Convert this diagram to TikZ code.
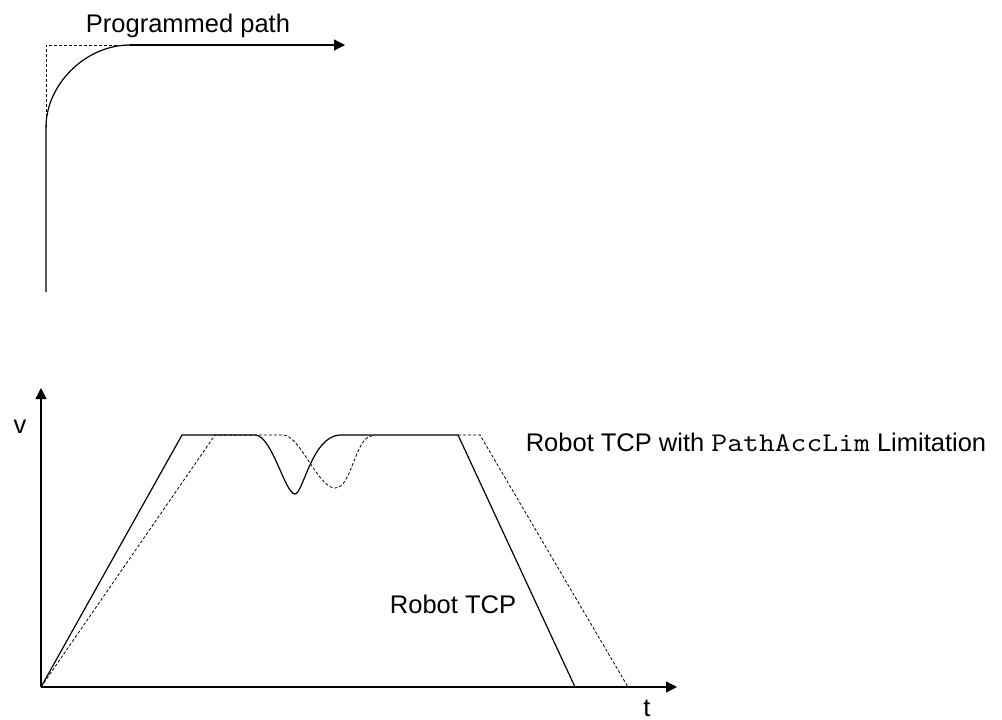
\documentclass[tikz,border=0pt]{standalone}
\usepackage{fontspec}
\setmainfont{Liberation Sans}
\setmonofont{Latin Modern Mono}[FakeStretch=1.14]
\usepackage{tikz}
\usetikzlibrary{arrows.meta, positioning, calc}

\begin{document}
\begin{tikzpicture}[
    x=1pt, y=-1pt,
    every node/.style={font=\fontsize{25.5}{30}\selectfont, inner sep=0pt, anchor=base},
    solidline/.style={draw, line width=1.2pt},
    dashline/.style={draw, line width=0.8pt, dash pattern=on 3pt off 2pt},
    axis/.style={draw, line width=1.2pt, -{Triangle[length=11pt, width=11pt]}}
]
    \useasboundingbox (0,0) rectangle (1002,720);

    % Programmed path
    \coordinate (pbot) at (46,292);
    \coordinate (pstart) at (46,127);
    \coordinate (pcorner) at (46,45);
    \coordinate (pend) at (130,45);
    \coordinate (parrow) at (345,45);
    \node (plabel) at (188,32) {Programmed path};

    \draw[solidline] (pbot) -- (pstart) .. controls (46,85) and (85,45) .. (pend);
    \draw[dashline] (pstart) -- (pcorner) -- (pend);
    \draw[axis] (pend) -- (parrow);

    % Axes
    \coordinate (O) at (41,687);
    \coordinate (vtop) at (41,388);
    \coordinate (tend) at (677,687);
    \draw[axis] (O) -- (vtop);
    \draw[axis] (O) -- (tend);
    \node (vlabel) at (20,433) {v};
    \node (tlabel) at (647,716) {t};

    % Robot TCP
    \draw[solidline] (O) -- (182,435) -- (255,435)
        .. controls (272,435) and (285,494) .. (295,494)
        .. controls (303,494) and (312,436) .. (340,435)
        -- (458,435) -- (575,687);
    \node (tcp) at (453,613) {Robot TCP};

    % Robot TCP with PathAccLim
    \draw[dashline] (O) -- (215,435) -- (283,435)
        .. controls (300,435) and (318,488) .. (335,488)
        .. controls (352,488) and (355,437) .. (372,436);
    \draw[dashline] (458,435) -- (480,435) -- (628,687);
    \node (tcplim) at (756,451) {Robot TCP with {\fontsize{27}{30}\selectfont\ttfamily PathAccLim} Limitation};
\end{tikzpicture}
\end{document}
